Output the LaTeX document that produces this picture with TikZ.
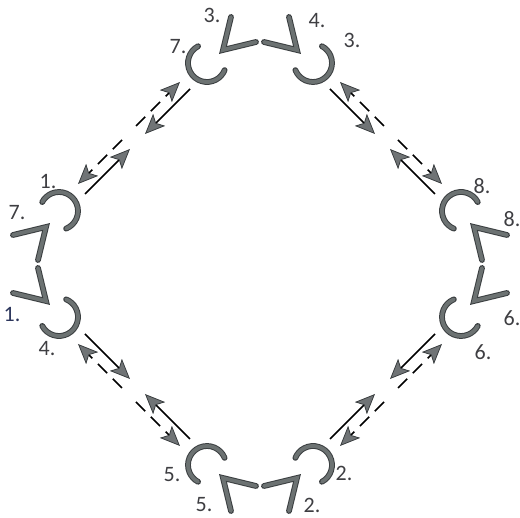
\documentclass[tikz,border=0pt]{standalone}
\usepackage{fontspec}
\setmainfont{Carlito}
\usetikzlibrary{arrows.meta}
\definecolor{hookgray}{RGB}{108,114,114}
\definecolor{hookedge}{RGB}{58,62,64}
\definecolor{tipgray}{RGB}{112,116,118}
\definecolor{labgray}{RGB}{62,62,66}
\definecolor{labblue}{RGB}{44,54,92}
\begin{document}
\begin{tikzpicture}[x=0.5pt, y=0.5pt,
		piece/.style={draw=hookedge, line width=0.5pt, double=hookgray, double distance=1.9pt, line cap=round, line join=miter},
		num/.style={text=labgray, font=\fontsize{11}{12}\selectfont, inner sep=0pt},
		arr/.style={black, line width=0.85pt, -{Stealth[length=10pt, width=8.5pt, inset=2.2pt, fill=tipgray, color=hookedge, line width=0.4pt]}},
		dasharr/.style={arr, dash pattern=on 6.5pt off 4pt}]
	\useasboundingbox (-260,-254) rectangle (260,264);
	
	% hooks
	\draw[piece] (-53,201) ++(118:19) arc[start angle=118, end angle=338, radius=19];
	\draw[piece] (53,201) ++(202:19) arc[start angle=202, end angle=422, radius=19];
	\draw[piece] (-201,53) ++(-68:19) arc[start angle=-68, end angle=152, radius=19];
	\draw[piece] (-201,-53) ++(208:19) arc[start angle=208, end angle=428, radius=19];
	\draw[piece] (201,53) ++(28:19) arc[start angle=28, end angle=248, radius=19];
	\draw[piece] (201,-53) ++(112:19) arc[start angle=112, end angle=332, radius=19];
	\draw[piece] (-53,-201) ++(22:19) arc[start angle=22, end angle=242, radius=19];
	\draw[piece] (53,-201) ++(-62:19) arc[start angle=-62, end angle=158, radius=19];
	
	% chevrons
	\draw[piece] (-29,247) -- (-37,214) -- (-4,222);
	\draw[piece] (29,247) -- (37,214) -- (4,222);
	\draw[piece] (-29,-247) -- (-37,-214) -- (-4,-222);
	\draw[piece] (29,-247) -- (37,-214) -- (4,-222);
	\draw[piece] (-247,29) -- (-214,37) -- (-222,4);
	\draw[piece] (-247,-29) -- (-214,-37) -- (-222,-4);
	\draw[piece] (247,29) -- (214,37) -- (222,4);
	\draw[piece] (247,-29) -- (214,-37) -- (222,-4);
	
	% arrows along the four sides
	\foreach \q/\sx/\sy in {tl/-1/1, tr/1/1, bl/-1/-1, br/1/-1} {
		\coordinate (\q-a0) at (175*\sx,70*\sy);
		\coordinate (\q-a1) at (130*\sx,115*\sy);
		\coordinate (\q-b0) at (70*\sx,175*\sy);
		\coordinate (\q-b1) at (115*\sx,130*\sy);
		\coordinate (\q-c0) at (138*\sx,124*\sy);
		\coordinate (\q-c1) at (182*\sx,80*\sy);
		\coordinate (\q-d0) at (124*\sx,138*\sy);
		\coordinate (\q-d1) at (80*\sx,182*\sy);
		\draw[arr] (\q-a0) -- (\q-a1);
		\draw[arr] (\q-b0) -- (\q-b1);
		\draw[dasharr] (\q-c0) -- (\q-c1);
		\draw[dasharr] (\q-d0) -- (\q-d1);
	}
	
	% numbers
	\node[num] (n3a) at (-48,249) {3.};
	\node[num] (n4a) at (57,243) {4.};
	\node[num] (n7a) at (-82,217) {7.};
	\node[num] (n3b) at (92,224) {3.};
	\node[num] (n1a) at (-212,82) {1.};
	\node[num] (n7b) at (-243,51) {7.};
	\node[num, text=labblue] (n1b) at (-248,-51) {1.};
	\node[num] (n4b) at (-213,-85) {4.};
	\node[num] (n8a) at (222,78) {8.};
	\node[num] (n8b) at (252,45) {8.};
	\node[num] (n6a) at (252,-54) {6.};
	\node[num] (n6b) at (223,-88) {6.};
	\node[num] (n5a) at (-88,-211) {5.};
	\node[num] (n5b) at (-56,-241) {5.};
	\node[num] (n2a) at (52,-241) {2.};
	\node[num] (n2b) at (84,-209) {2.};
\end{tikzpicture}
\end{document}
